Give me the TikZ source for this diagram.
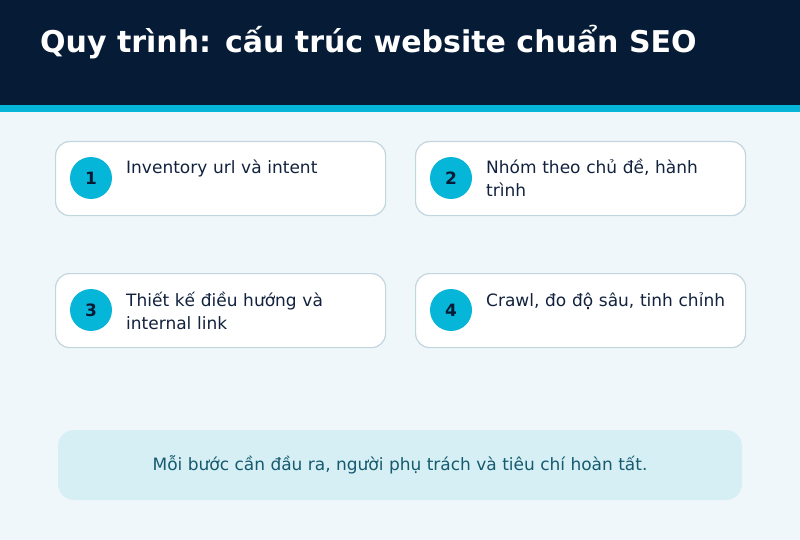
\documentclass[tikz,border=0pt]{standalone}
\usepackage{fontspec}
\setmainfont{DejaVu Sans}
\usepackage{xcolor}
\definecolor{seonavy}{HTML}{061B36}
\definecolor{seocyan}{HTML}{06B6D8}
\definecolor{seobg}{HTML}{F0F7FA}
\definecolor{seoedge}{HTML}{C2D6DE}
\definecolor{seonote}{HTML}{D6EFF5}
\definecolor{seotext}{HTML}{12223E}
\definecolor{seoteal}{HTML}{155A6E}
\hyphenpenalty=10000

\begin{document}
\begin{tikzpicture}[x=1pt,y=-1pt,
  card/.style={draw=seoedge, line width=1.2pt, fill=white, rounded corners=14pt,
    minimum width=330pt, minimum height=74pt, inner sep=0pt},
  badge/.style={circle, fill=seocyan, minimum size=42pt, inner sep=0pt,
    font=\fontsize{17}{20}\selectfont\bfseries, text=seonavy},
  cardtext/.style={anchor=base west, inner sep=0pt, text width=246pt, align=left,
    font=\fontsize{17}{23}\selectfont, text=seotext}]
\fill[seobg] (0,0) rectangle (800,540);
\fill[seonavy] (0,0) rectangle (800,105);
\fill[seocyan] (0,105) rectangle (800,112);
\node[anchor=base west, inner sep=0pt, text=white, font=\fontsize{30}{36}\selectfont\bfseries]
  (title) at (40,53) {Quy trình: cấu trúc website chuẩn SEO};
% four steps
\foreach \n/\x/\y/\txt in {1/55/141/{Inventory url và intent},
    2/415/141/{Nhóm theo chủ đề, hành trình},
    3/55/273/{Thiết kế điều hướng và internal link},
    4/415/273/{Crawl, đo độ sâu, tinh chỉnh}} {
  \node[card, anchor=north west] (step\n) at (\x,\y) {};
  \node[badge] (badge\n) at (\x+36,\y+37) {\n};
  \node[cardtext] (label\n) at (\x+71,\y+33) {\txt};
}
\node[fill=seonote, rounded corners=16pt, minimum width=684pt, minimum height=70pt,
  font=\fontsize{17}{20}\selectfont, text=seoteal] (note) at (400,465)
  {Mỗi bước cần đầu ra, người phụ trách và tiêu chí hoàn tất.};
\end{tikzpicture}
\end{document}
